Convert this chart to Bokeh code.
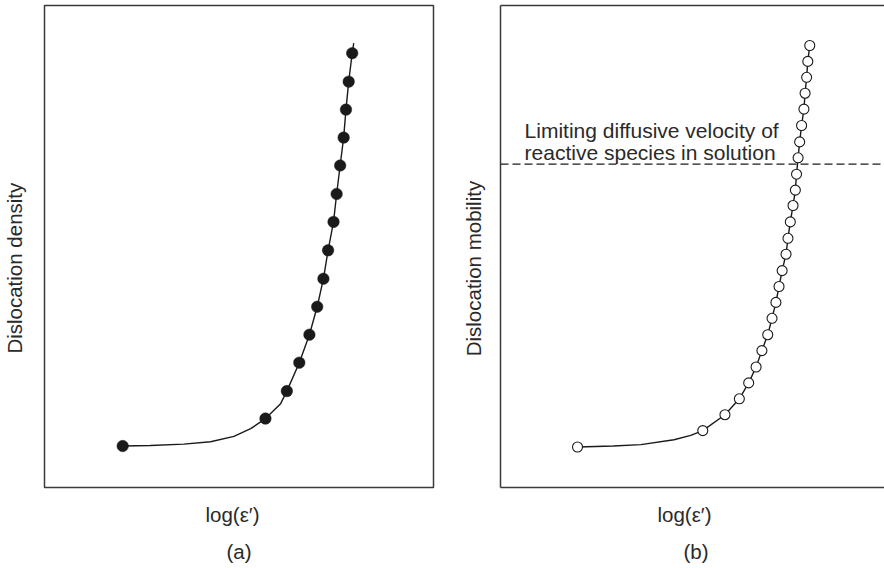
import math

from bokeh.embed import file_html
from bokeh.layouts import row
from bokeh.models import FixedTicker, Label, LinearAxis, Range1d, Span, Title
from bokeh.plotting import figure
from bokeh.resources import INLINE

# ---------------------------------------------------------------------------
# Data (arbitrary units: both axes are qualitative, 0-100 across the frame)
# ---------------------------------------------------------------------------

# (a) dislocation density against log strain rate
density_dot_x = [20.1, 56.8, 62.3, 65.5, 68.1, 70.1, 71.7, 72.9, 74.3, 75.1,
                 76.0, 76.9, 77.5, 78.2, 79.1]
density_dot_y = [8.6, 14.3, 20.0, 25.9, 31.7, 37.5, 43.3, 49.2, 55.1, 60.9,
                 66.8, 72.6, 78.4, 84.2, 90.1]
density_curve_x = [20.1, 27.2, 35.8, 42.7, 48.7, 53.0, 56.8, 60.7, 62.3, 65.5,
                   68.1, 70.1, 71.7, 72.9, 74.3, 75.1, 76.0, 76.9, 77.5, 78.2,
                   79.1, 79.5]
density_curve_y = [8.6, 8.7, 9.0, 9.5, 10.6, 12.2, 14.3, 17.4, 20.0, 25.9,
                   31.7, 37.5, 43.3, 49.2, 55.1, 60.9, 66.8, 72.6, 78.4, 84.2,
                   90.1, 92.2]

# (b) dislocation mobility against log strain rate
mobility_dot_x = [19.8, 52.0, 57.7, 61.4, 63.8, 65.7, 67.2, 68.7, 69.8, 70.8,
                  71.6, 72.4, 73.4, 73.9, 74.5, 75.2, 75.8, 76.1, 76.5, 76.9,
                  77.4, 78.0, 78.3, 78.7, 79.0, 79.5]
mobility_dot_y = [8.4, 11.8, 15.1, 18.4, 21.7, 25.0, 28.4, 31.7, 35.1, 38.4,
                  41.7, 45.0, 48.4, 51.7, 55.1, 58.5, 61.7, 65.0, 68.4, 71.7,
                  75.1, 78.5, 81.8, 85.1, 88.4, 91.7]
mobility_lead_x = [19.8, 29.0, 36.1, 44.6, 48.9]
mobility_lead_y = [8.4, 8.6, 8.9, 9.9, 10.8]
mobility_curve_x = mobility_lead_x + mobility_dot_x[1:]
mobility_curve_y = mobility_lead_y + mobility_dot_y[1:]

# level of the limiting diffusive velocity of the reactive species
diffusion_limit = 67.1

x_title = "log(\u03b5\u2032)"
panel_titles = ["(a)", "(b)"]
y_titles = ["Dislocation density", "Dislocation mobility"]
limit_text = ["Limiting diffusive velocity of", "reactive species in solution"]

# ---------------------------------------------------------------------------
# Styling
# ---------------------------------------------------------------------------
FONT = "Liberation Sans"
FONT_SIZE = "20.5px"
TEXT_COLOR = "#2a2a2a"
INK = "#1a1a1a"
FRAME_COLOR = "#3a3a3a"
HEIGHT = 568


def add_title(p, text, offset, standoff, valign="bottom"):
    p.add_layout(Title(text=text, align="left", offset=offset,
                       standoff=standoff, vertical_align=valign,
                       text_font=FONT, text_font_size=FONT_SIZE,
                       text_font_style="normal", text_color=TEXT_COLOR),
                 "below")


def blank_axis(axis):
    axis.ticker = FixedTicker(ticks=[])
    axis.major_tick_line_color = None
    axis.minor_tick_line_color = None
    axis.major_label_text_font_size = "0px"
    axis.major_label_standoff = 0
    axis.major_tick_out = 0
    axis.major_tick_in = 0
    axis.axis_line_color = FRAME_COLOR
    axis.axis_line_width = 1.5
    return axis


def y_title_strip(text, width, anchor_x, anchor_y):
    """Narrow text-only strip holding a vertical axis title (pixel units)."""
    s = figure(width=width, height=HEIGHT, output_backend="svg",
               toolbar_location=None, x_range=Range1d(0, width),
               y_range=Range1d(0, HEIGHT), x_axis_location=None,
               y_axis_location=None, min_border=0)
    s.grid.visible = False
    s.outline_line_color = None
    s.add_layout(Label(x=anchor_x, y=anchor_y, text=text,
                       angle=math.pi / 2, angle_units="rad",
                       text_font=FONT, text_font_size=FONT_SIZE,
                       text_color=TEXT_COLOR, text_align="center",
                       text_baseline="alphabetic"))
    return s


# ---------------------------------------------------------------------------
# (a) Dislocation density
# ---------------------------------------------------------------------------
ya = y_title_strip(y_titles[0], 40, 14.0, 258.5)

pa = figure(width=410, height=HEIGHT, output_backend="svg", toolbar_location=None,
            x_range=Range1d(0, 100), y_range=Range1d(0, 100),
            x_axis_location=None, y_axis_location=None,
            min_border_left=4, min_border_right=17,
            min_border_top=5, min_border_bottom=81)
pa.grid.visible = False
pa.outline_line_color = FRAME_COLOR
pa.outline_line_width = 1.5
pa.background_fill_color = "white"
pa.border_fill_color = "white"

pa.line(density_curve_x, density_curve_y, line_color=INK, line_width=1.4)
pa.scatter(density_dot_x, density_dot_y, marker="circle", size=11.5,
           fill_color=INK, line_color=INK, line_width=0.5)

add_title(pa, x_title, offset=161, standoff=27)
add_title(pa, panel_titles[0], offset=182, standoff=1, valign="top")

# ---------------------------------------------------------------------------
# (b) Dislocation mobility
# ---------------------------------------------------------------------------
yb = y_title_strip(y_titles[1], 46, 22.5, 258.0)

pb = figure(width=388, height=HEIGHT, output_backend="svg", toolbar_location=None,
            x_range=Range1d(0, 384 / 3.89), y_range=Range1d(0, 100),
            min_border_left=4, min_border_right=0,
            min_border_top=5, min_border_bottom=81)
pb.grid.visible = False
pb.outline_line_color = None
pb.background_fill_color = "white"
pb.border_fill_color = "white"
blank_axis(pb.xaxis[0])
blank_axis(pb.yaxis[0])
pb.add_layout(blank_axis(LinearAxis()), "above")

pb.add_layout(Span(location=diffusion_limit, dimension="width",
                   line_color=INK, line_width=1.2, line_dash="8 4"))

pb.line(mobility_curve_x, mobility_curve_y, line_color=INK, line_width=1.4)
pb.scatter(mobility_dot_x, mobility_dot_y, marker="circle", size=10,
           fill_color="white", line_color=INK, line_width=1.1)

# two-line note sitting just above the dashed level
for line_text, baseline_y in zip(limit_text, [74.0, 69.4]):
    pb.add_layout(Label(x=6.2, y=baseline_y, text=line_text,
                        text_font=FONT, text_font_size="21px",
                        text_color=TEXT_COLOR, text_align="left",
                        text_baseline="alphabetic"))

add_title(pb, x_title, offset=157, standoff=27)
add_title(pb, panel_titles[1], offset=183, standoff=1, valign="top")

layout = row(ya, pa, yb, pb)

with open("out.html", "w") as f:
    f.write(file_html(layout, INLINE))
